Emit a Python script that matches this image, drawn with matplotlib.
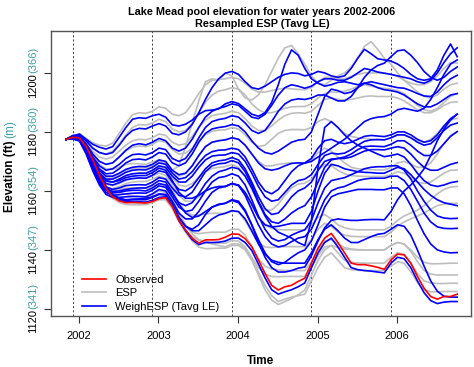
import numpy as np
import matplotlib.pyplot as plt
from matplotlib.lines import Line2D

plt.rcParams['font.family'] = ['Liberation Sans', 'DejaVu Sans']

# ---- data (Lake Mead elevation, ft), monthly, Nov 2001 - Sep 2006 ----
start_year = 2001.84
wy_starts = [2001.92, 2002.92, 2003.92, 2004.92, 2005.92]
year_ticks = [2002, 2003, 2004, 2005, 2006]
ft_ticks = [1120, 1140, 1160, 1180, 1200]
m_labels = ["(341)", "(347)", "(354)", "(360)", "(366)"]

observed = [1177.5, 1178.2, 1177.9, 1175.0, 1170.5, 1165.4, 1160.9, 1158.0, 1156.6, 1156.0, 1156.1, 1156.0, 1155.9,
            1156.4, 1157.4, 1157.7, 1154.7, 1150.0, 1146.8, 1144.0, 1142.3, 1143.4, 1143.4, 1143.5, 1144.3,
            1145.4, 1145.3, 1143.8, 1141.1, 1136.6, 1132.0, 1128.0, 1126.4, 1127.5, 1128.0, 1129.3, 1130.4,
            1135.5, 1140.6, 1144.0, 1145.6, 1142.5, 1139.0, 1135.5, 1135.0, 1135.0, 1134.6, 1134.1, 1133.4,
            1136.6, 1138.6, 1138.3, 1135.5, 1131.0, 1127.0, 1124.2, 1123.3, 1124.2, 1124.2, 1125.0]

esp01 = [1177.5, 1178.3, 1178.0, 1175.5, 1172.0, 1169.0, 1167.5, 1167.3, 1168.0, 1169.0, 1169.3, 1169.2, 1169.0,
         1169.8, 1170.5, 1169.5, 1167.0, 1168.5, 1175.0, 1183.0, 1190.5, 1197.0, 1198.0, 1197.5, 1200.0,
         1199.0, 1194.5, 1191.5, 1190.8, 1192.5, 1196.0, 1200.5, 1205.0, 1208.5, 1209.3, 1206.5, 1203.0,
         1199.0, 1196.5, 1196.0, 1197.5, 1199.0, 1200.0, 1202.0, 1205.0, 1209.0, 1210.6, 1208.0, 1205.0,
         1203.0, 1200.0, 1197.5, 1196.5, 1196.0, 1196.0, 1197.0, 1199.0, 1201.5, 1203.5, 1203.3]
esp02 = [1177.5, 1178.7, 1179.3, 1177.8, 1176.3, 1175.5, 1175.2, 1176.2, 1179.5, 1183.0, 1185.8, 1186.5, 1186.3,
         1187.0, 1188.5, 1188.0, 1186.0, 1185.5, 1186.5, 1189.5, 1193.0, 1196.0, 1197.5, 1197.8, 1198.0,
         1198.5, 1198.0, 1196.5, 1194.5, 1193.5, 1193.5, 1194.0, 1194.5, 1194.8, 1194.6, 1194.4, 1194.3,
         1195.0, 1197.0, 1198.5, 1198.5, 1198.0, 1198.0, 1198.8, 1199.5, 1200.0, 1200.0, 1200.0, 1199.9,
         1199.5, 1198.8, 1197.5, 1195.5, 1193.5, 1192.0, 1191.5, 1192.5, 1194.5, 1196.0, 1196.5]
esp03 = [1177.5, 1178.6, 1178.9, 1177.0, 1174.5, 1173.0, 1172.5, 1173.5, 1176.0, 1179.0, 1181.5, 1182.5, 1182.3,
         1183.0, 1184.3, 1183.5, 1181.0, 1180.0, 1180.5, 1183.0, 1186.5, 1190.0, 1192.5, 1193.8, 1194.3,
         1195.0, 1194.5, 1192.5, 1189.5, 1187.5, 1186.5, 1186.5, 1187.2, 1188.0, 1188.5, 1188.6, 1188.6,
         1189.5, 1191.5, 1193.0, 1193.5, 1193.5, 1193.8, 1194.5, 1195.5, 1196.0, 1195.5, 1195.0, 1194.8,
         1194.5, 1194.0, 1193.0, 1191.0, 1189.0, 1187.5, 1187.0, 1188.0, 1190.0, 1192.0, 1193.0]
esp04 = [1177.5, 1178.5, 1178.5, 1176.5, 1173.5, 1171.5, 1170.8, 1171.5, 1173.5, 1175.5, 1177.0, 1177.5, 1177.3,
         1178.0, 1179.3, 1178.8, 1176.5, 1175.5, 1176.0, 1178.5, 1181.5, 1184.0, 1185.5, 1186.0, 1186.3,
         1187.0, 1186.5, 1184.5, 1182.0, 1180.5, 1180.5, 1182.0, 1184.0, 1185.5, 1186.3, 1186.5, 1186.3,
         1187.0, 1189.0, 1191.0, 1191.5, 1191.0, 1190.8, 1191.0, 1191.5, 1192.0, 1192.2, 1192.0, 1192.0,
         1192.0, 1191.5, 1190.5, 1189.0, 1187.5, 1186.5, 1186.5, 1187.5, 1189.0, 1190.0, 1190.2]
esp05 = [1177.5, 1178.4, 1178.3, 1176.0, 1172.5, 1170.0, 1169.0, 1169.5, 1171.5, 1173.5, 1174.8, 1175.2, 1175.0,
         1175.8, 1177.0, 1176.5, 1174.0, 1172.5, 1172.8, 1174.5, 1177.0, 1179.0, 1180.2, 1180.6, 1180.7,
         1181.5, 1181.0, 1179.0, 1176.5, 1175.0, 1175.5, 1177.5, 1179.5, 1180.5, 1180.8, 1180.8, 1180.7,
         1181.5, 1183.5, 1184.5, 1183.5, 1181.5, 1179.5, 1178.5, 1178.0, 1177.8, 1177.5, 1177.4, 1177.3,
         1178.0, 1179.0, 1179.0, 1178.0, 1177.0, 1176.5, 1177.5, 1179.5, 1182.0, 1184.0, 1184.6]
esp06 = [1177.5, 1178.2, 1177.8, 1174.8, 1170.3, 1166.5, 1164.5, 1164.5, 1165.5, 1166.8, 1167.5, 1167.8, 1167.7,
         1168.5, 1170.0, 1169.5, 1166.5, 1165.0, 1165.8, 1168.5, 1172.0, 1175.0, 1176.5, 1177.1, 1177.3,
         1178.0, 1177.5, 1175.5, 1172.5, 1170.0, 1168.5, 1168.5, 1169.0, 1169.3, 1169.5, 1169.5, 1169.4,
         1170.5, 1173.0, 1174.5, 1173.5, 1171.5, 1169.5, 1168.0, 1167.5, 1167.3, 1167.2, 1167.1, 1167.1,
         1168.0, 1169.5, 1170.0, 1169.0, 1168.0, 1168.0, 1169.5, 1172.5, 1176.0, 1178.8, 1180.1]
esp07 = [1177.5, 1178.1, 1177.6, 1174.5, 1169.8, 1165.5, 1163.3, 1163.0, 1164.0, 1165.2, 1165.8, 1166.0, 1166.0,
         1166.8, 1168.2, 1167.5, 1164.5, 1162.0, 1161.5, 1162.5, 1164.5, 1166.5, 1167.6, 1168.0, 1168.2,
         1169.0, 1168.0, 1165.0, 1160.5, 1156.0, 1153.5, 1153.5, 1155.5, 1158.5, 1161.0, 1162.3, 1162.6,
         1164.0, 1167.0, 1169.0, 1168.5, 1167.0, 1165.8, 1165.2, 1165.0, 1164.9, 1164.9, 1164.9, 1164.9,
         1165.5, 1166.5, 1166.0, 1164.5, 1163.0, 1162.5, 1163.0, 1164.5, 1166.0, 1167.0, 1167.1]
esp08 = [1177.5, 1178.0, 1177.5, 1174.2, 1169.2, 1164.8, 1162.3, 1161.8, 1162.5, 1163.5, 1164.1, 1164.3, 1164.3,
         1165.0, 1166.0, 1165.3, 1162.0, 1158.5, 1156.5, 1156.5, 1158.0, 1160.0, 1161.0, 1161.4, 1161.5,
         1162.3, 1161.8, 1159.0, 1155.0, 1151.0, 1148.5, 1147.3, 1146.9, 1146.8, 1146.8, 1146.8, 1146.8,
         1148.5, 1151.0, 1152.0, 1150.5, 1148.5, 1147.5, 1147.0, 1146.8, 1146.8, 1146.8, 1146.8, 1146.8,
         1148.0, 1150.0, 1151.5, 1152.5, 1153.5, 1155.0, 1157.0, 1159.0, 1160.5, 1161.3, 1161.5]
esp09 = [1177.5, 1177.9, 1177.3, 1173.8, 1168.5, 1164.0, 1161.3, 1160.8, 1161.5, 1162.5, 1163.0, 1163.2, 1163.2,
         1164.0, 1165.0, 1164.2, 1160.5, 1156.0, 1153.0, 1151.8, 1151.8, 1152.2, 1152.4, 1152.4, 1152.4,
         1153.2, 1152.8, 1150.0, 1146.0, 1142.5, 1141.0, 1140.8, 1141.0, 1141.1, 1141.1, 1141.1, 1141.1,
         1143.5, 1147.0, 1149.0, 1148.0, 1146.0, 1145.0, 1144.6, 1144.5, 1144.5, 1144.5, 1144.5, 1144.5,
         1146.0, 1148.0, 1149.5, 1150.5, 1151.5, 1152.5, 1153.8, 1155.0, 1155.5, 1155.8, 1155.8]
esp10 = [1177.5, 1177.8, 1177.2, 1173.5, 1168.0, 1163.5, 1161.0, 1160.3, 1160.6, 1160.9, 1161.0, 1161.0, 1160.9,
         1161.5, 1162.3, 1161.5, 1157.5, 1152.5, 1148.5, 1145.5, 1143.5, 1142.6, 1142.3, 1142.3, 1142.3,
         1143.2, 1143.0, 1141.0, 1137.5, 1134.0, 1131.8, 1131.0, 1130.9, 1131.0, 1131.0, 1131.0, 1131.0,
         1134.0, 1138.0, 1141.0, 1141.5, 1140.8, 1140.3, 1140.1, 1140.0, 1140.0, 1140.0, 1140.0, 1140.0,
         1141.5, 1142.5, 1142.0, 1140.0, 1137.5, 1135.8, 1135.3, 1135.3, 1135.4, 1135.5, 1135.5]
esp11 = [1177.5, 1178.3, 1178.0, 1175.0, 1170.3, 1165.0, 1160.5, 1157.5, 1156.0, 1155.4, 1155.3, 1155.3, 1155.3,
         1156.0, 1157.0, 1157.0, 1154.0, 1149.5, 1146.0, 1143.0, 1141.0, 1140.4, 1140.5, 1140.6, 1140.6,
         1141.5, 1141.5, 1140.0, 1136.5, 1131.5, 1126.5, 1123.0, 1121.5, 1122.5, 1123.5, 1124.8, 1126.4,
         1131.5, 1136.5, 1140.0, 1141.5, 1139.0, 1136.5, 1135.8, 1135.6, 1135.5, 1135.5, 1135.5, 1135.5,
         1137.5, 1139.0, 1138.5, 1135.5, 1132.0, 1129.5, 1128.8, 1128.6, 1128.6, 1128.7, 1128.7]
esp12 = [1177.5, 1178.2, 1177.9, 1175.0, 1170.5, 1165.5, 1161.0, 1158.3, 1157.0, 1156.3, 1156.0, 1156.0, 1156.0,
         1156.5, 1157.4, 1157.5, 1154.5, 1150.0, 1146.5, 1144.5, 1143.3, 1143.0, 1142.0, 1141.5, 1141.0,
         1142.0, 1142.0, 1140.5, 1137.0, 1132.5, 1128.0, 1124.5, 1122.5, 1123.3, 1124.0, 1124.5, 1125.0,
         1129.5, 1134.0, 1137.5, 1139.0, 1136.5, 1134.0, 1133.3, 1133.1, 1133.0, 1133.0, 1133.0, 1133.0,
         1134.5, 1136.0, 1135.5, 1132.5, 1129.0, 1126.5, 1125.8, 1125.8, 1125.9, 1125.9, 1125.9]
esp13 = [1177.5, 1178.0, 1177.4, 1174.0, 1168.8, 1164.3, 1161.5, 1160.2, 1159.5, 1158.8, 1158.3, 1158.1, 1158.0,
         1158.8, 1160.0, 1159.5, 1156.0, 1151.5, 1148.0, 1146.0, 1145.5, 1145.8, 1146.0, 1146.0, 1146.0,
         1147.0, 1147.0, 1145.0, 1141.0, 1137.0, 1134.5, 1133.5, 1133.2, 1133.0, 1133.0, 1133.0, 1133.0,
         1136.0, 1140.0, 1143.0, 1143.5, 1142.0, 1140.8, 1140.3, 1140.1, 1140.0, 1140.0, 1140.0, 1140.0,
         1141.5, 1142.5, 1142.0, 1139.5, 1136.0, 1133.0, 1131.8, 1131.5, 1131.5, 1131.5, 1131.5]

wesp01 = [1177.5, 1178.5, 1179.3, 1177.5, 1175.8, 1174.8, 1174.2, 1175.0, 1178.2, 1181.5, 1184.3, 1184.8, 1184.6,
          1185.5, 1186.0, 1185.0, 1182.4, 1182.0, 1182.6, 1184.0, 1186.0, 1187.2, 1187.4, 1187.8, 1189.5,
          1190.3, 1189.6, 1187.8, 1186.0, 1185.3, 1186.5, 1190.0, 1196.0, 1203.0, 1207.8, 1206.0, 1201.5,
          1198.0, 1196.5, 1195.5, 1196.0, 1196.8, 1197.0, 1196.5, 1196.0, 1196.5, 1197.0, 1196.5, 1196.0,
          1195.5, 1195.0, 1194.8, 1194.0, 1193.0, 1192.2, 1192.0, 1193.5, 1196.0, 1198.0, 1199.2]
wesp02 = [1177.5, 1178.8, 1179.0, 1177.0, 1174.5, 1173.0, 1172.4, 1173.0, 1175.5, 1178.5, 1180.5, 1181.2, 1181.0,
          1182.0, 1182.8, 1182.0, 1179.5, 1179.0, 1180.0, 1182.5, 1186.5, 1191.0, 1195.0, 1198.0, 1199.9,
          1200.5, 1199.5, 1197.0, 1195.0, 1194.5, 1195.5, 1197.0, 1198.5, 1199.5, 1200.0, 1199.8, 1199.0,
          1199.5, 1200.5, 1200.0, 1199.0, 1198.5, 1199.0, 1201.5, 1205.0, 1208.0, 1206.5, 1204.8, 1204.4,
          1204.0, 1203.0, 1201.5, 1199.5, 1198.0, 1197.5, 1198.0, 1201.0, 1206.0, 1209.8, 1205.5]
wesp03 = [1177.5, 1178.6, 1178.5, 1176.0, 1172.5, 1170.0, 1169.0, 1169.5, 1171.5, 1173.8, 1175.5, 1176.0, 1175.6,
          1176.5, 1177.8, 1177.0, 1174.5, 1173.5, 1174.5, 1177.5, 1181.5, 1185.0, 1187.0, 1188.0, 1188.6,
          1189.5, 1189.0, 1187.0, 1185.0, 1184.5, 1186.0, 1189.0, 1192.5, 1195.0, 1196.0, 1195.5, 1194.8,
          1195.5, 1197.0, 1198.0, 1198.0, 1197.5, 1197.5, 1198.5, 1200.0, 1201.5, 1201.0, 1200.3, 1199.9,
          1199.5, 1199.0, 1198.5, 1198.0, 1197.0, 1196.5, 1197.5, 1200.0, 1203.5, 1206.5, 1208.5]
wesp04 = [1177.5, 1178.4, 1178.2, 1175.5, 1171.5, 1168.5, 1167.0, 1167.5, 1169.0, 1171.0, 1172.3, 1172.5, 1172.2,
          1173.0, 1174.5, 1174.0, 1171.0, 1170.0, 1171.0, 1174.0, 1178.0, 1181.5, 1183.5, 1184.2, 1184.6,
          1185.5, 1185.0, 1183.0, 1180.5, 1179.5, 1180.5, 1183.5, 1187.0, 1189.5, 1190.8, 1191.2, 1191.0,
          1191.5, 1192.5, 1192.5, 1191.5, 1190.5, 1190.5, 1192.0, 1195.0, 1198.5, 1201.0, 1202.5, 1203.3,
          1205.5, 1207.5, 1207.8, 1206.0, 1203.5, 1200.5, 1198.5, 1197.5, 1198.5, 1200.5, 1202.0]
wesp05 = [1177.5, 1178.3, 1178.0, 1175.0, 1171.0, 1167.5, 1165.8, 1166.0, 1167.5, 1169.5, 1170.6, 1170.8, 1170.5,
          1171.5, 1173.0, 1172.5, 1169.5, 1168.5, 1169.5, 1172.5, 1176.5, 1179.5, 1181.0, 1181.5, 1181.8,
          1182.5, 1182.0, 1180.0, 1177.0, 1174.5, 1173.0, 1172.5, 1173.5, 1175.0, 1176.5, 1177.2, 1177.5,
          1180.0, 1186.0, 1192.0, 1194.5, 1194.0, 1193.0, 1193.5, 1195.0, 1196.5, 1196.0, 1195.0, 1194.3,
          1194.0, 1193.5, 1192.5, 1191.0, 1189.5, 1188.5, 1188.5, 1189.5, 1191.0, 1192.5, 1193.0]
wesp06 = [1177.5, 1178.2, 1177.8, 1174.8, 1170.5, 1167.0, 1165.0, 1165.0, 1166.0, 1167.3, 1168.0, 1168.3, 1168.2,
          1169.0, 1170.5, 1170.0, 1167.0, 1165.5, 1166.0, 1168.5, 1172.0, 1175.0, 1176.5, 1177.0, 1177.3,
          1178.0, 1177.5, 1175.5, 1172.5, 1169.5, 1167.5, 1167.0, 1167.5, 1168.5, 1169.3, 1169.5, 1169.4,
          1170.0, 1171.5, 1173.0, 1174.5, 1176.0, 1177.5, 1179.5, 1181.5, 1183.5, 1184.5, 1185.0, 1185.2,
          1186.0, 1187.5, 1188.0, 1187.5, 1187.0, 1188.0, 1191.0, 1195.0, 1199.5, 1203.0, 1204.4]
wesp07 = [1177.5, 1178.1, 1177.6, 1174.5, 1170.0, 1166.0, 1164.0, 1164.0, 1165.0, 1166.3, 1167.0, 1167.2, 1167.1,
          1168.0, 1169.5, 1169.0, 1166.0, 1164.0, 1164.5, 1166.5, 1169.5, 1172.0, 1173.3, 1173.8, 1173.9,
          1174.5, 1174.0, 1171.5, 1167.5, 1163.0, 1160.0, 1159.0, 1160.5, 1163.5, 1166.5, 1168.5, 1169.5,
          1171.0, 1174.5, 1177.0, 1177.5, 1176.5, 1176.0, 1176.5, 1177.5, 1178.5, 1178.8, 1178.6, 1178.4,
          1179.0, 1180.0, 1180.0, 1179.0, 1177.5, 1176.5, 1177.0, 1179.0, 1182.0, 1184.5, 1186.0]
wesp08 = [1177.5, 1178.0, 1177.5, 1174.3, 1169.5, 1165.5, 1163.3, 1163.0, 1164.0, 1165.2, 1165.8, 1166.0, 1166.0,
          1167.0, 1168.5, 1168.0, 1165.0, 1163.0, 1163.0, 1165.0, 1168.0, 1170.5, 1171.8, 1172.1, 1172.2,
          1173.0, 1172.5, 1170.0, 1166.0, 1161.5, 1158.0, 1156.5, 1157.0, 1159.5, 1162.0, 1163.5, 1164.0,
          1165.5, 1169.0, 1172.0, 1172.8, 1172.5, 1172.8, 1174.0, 1175.5, 1176.8, 1177.3, 1177.4, 1177.3,
          1178.0, 1179.0, 1179.0, 1178.0, 1176.5, 1175.5, 1176.0, 1178.0, 1180.5, 1182.3, 1183.0]
wesp09 = [1177.5, 1177.9, 1177.4, 1174.0, 1169.0, 1165.0, 1162.5, 1162.0, 1162.8, 1163.8, 1164.2, 1164.4, 1164.3,
          1165.3, 1166.8, 1166.3, 1163.0, 1160.5, 1160.0, 1161.5, 1164.5, 1167.5, 1169.5, 1170.2, 1170.5,
          1171.3, 1170.5, 1167.5, 1163.0, 1158.0, 1154.0, 1152.0, 1152.5, 1155.0, 1158.0, 1160.0, 1161.0,
          1163.0, 1167.0, 1170.0, 1170.8, 1171.0, 1171.5, 1172.5, 1174.0, 1175.0, 1175.2, 1175.1, 1175.0,
          1175.8, 1177.0, 1177.0, 1175.5, 1173.5, 1172.0, 1172.0, 1173.5, 1176.0, 1178.5, 1180.1]
wesp10 = [1177.5, 1177.8, 1177.2, 1173.5, 1168.3, 1164.0, 1161.3, 1160.5, 1161.0, 1161.8, 1162.0, 1162.1, 1162.0,
          1163.0, 1164.5, 1164.0, 1161.0, 1158.5, 1158.0, 1159.5, 1163.0, 1166.5, 1168.5, 1169.2, 1169.4,
          1170.3, 1169.5, 1166.5, 1162.0, 1156.5, 1152.0, 1149.5, 1149.0, 1150.5, 1152.5, 1154.0, 1155.0,
          1158.0, 1163.0, 1168.0, 1170.5, 1171.0, 1171.0, 1171.5, 1172.5, 1173.5, 1174.0, 1174.0, 1173.9,
          1174.5, 1175.0, 1174.5, 1172.5, 1170.0, 1168.0, 1167.0, 1167.0, 1168.0, 1169.0, 1169.6]
wesp11 = [1177.5, 1177.8, 1177.1, 1173.3, 1167.8, 1163.2, 1160.3, 1159.3, 1159.5, 1160.0, 1160.2, 1160.2, 1160.0,
          1161.0, 1162.5, 1162.0, 1159.0, 1156.0, 1155.0, 1156.0, 1159.0, 1162.5, 1165.0, 1166.5, 1167.1,
          1168.0, 1167.5, 1165.0, 1161.0, 1156.0, 1151.5, 1148.0, 1146.0, 1145.0, 1144.0, 1142.5, 1141.5,
          1150.0, 1168.0, 1181.5, 1183.5, 1181.5, 1179.0, 1177.0, 1175.5, 1174.5, 1173.5, 1172.5, 1171.6,
          1172.0, 1172.5, 1171.5, 1169.0, 1166.0, 1163.5, 1162.0, 1161.5, 1162.0, 1162.8, 1163.2]
wesp12 = [1177.5, 1177.7, 1177.0, 1173.0, 1167.3, 1162.5, 1159.5, 1158.5, 1158.7, 1159.0, 1159.2, 1159.3, 1159.2,
          1160.2, 1161.7, 1161.2, 1158.0, 1154.5, 1153.0, 1153.5, 1156.5, 1160.0, 1163.0, 1164.5, 1164.9,
          1165.8, 1165.0, 1162.0, 1157.0, 1151.5, 1147.0, 1144.0, 1143.0, 1143.5, 1145.0, 1146.0, 1146.8,
          1150.0, 1156.0, 1161.0, 1163.5, 1164.0, 1164.5, 1165.5, 1166.5, 1167.5, 1168.0, 1168.2, 1168.2,
          1168.5, 1168.5, 1167.0, 1164.0, 1160.0, 1156.5, 1153.5, 1151.5, 1150.8, 1150.6, 1150.7]
wesp13 = [1177.5, 1177.6, 1176.9, 1172.5, 1166.8, 1162.0, 1158.8, 1157.8, 1157.8, 1158.0, 1158.1, 1158.1, 1158.0,
          1159.0, 1160.5, 1160.0, 1156.5, 1152.5, 1150.5, 1150.5, 1153.0, 1156.5, 1159.5, 1161.0, 1161.5,
          1162.5, 1161.8, 1158.5, 1153.5, 1148.5, 1144.5, 1142.0, 1141.0, 1141.5, 1142.8, 1144.0, 1144.5,
          1147.0, 1152.0, 1157.0, 1160.0, 1161.0, 1161.5, 1162.5, 1163.5, 1164.0, 1164.3, 1164.3, 1164.3,
          1165.0, 1165.0, 1163.5, 1160.5, 1156.5, 1152.5, 1149.5, 1147.8, 1147.3, 1147.2, 1147.3]
wesp14 = [1177.5, 1178.3, 1178.0, 1175.3, 1170.8, 1165.8, 1161.5, 1158.8, 1157.5, 1157.0, 1157.2, 1157.3, 1157.5,
          1158.0, 1159.0, 1158.8, 1155.5, 1151.0, 1148.0, 1147.0, 1148.5, 1152.0, 1154.5, 1155.5, 1155.8,
          1156.8, 1156.0, 1153.0, 1148.5, 1143.5, 1139.0, 1136.0, 1135.0, 1135.8, 1137.5, 1139.0, 1140.0,
          1143.0, 1148.5, 1154.5, 1158.0, 1159.0, 1159.5, 1160.0, 1160.5, 1160.5, 1160.5, 1160.4, 1160.4,
          1161.0, 1161.0, 1159.0, 1155.0, 1150.0, 1145.5, 1142.0, 1140.0, 1139.3, 1139.0, 1139.1]
wesp15 = [1177.5, 1178.4, 1178.1, 1175.2, 1170.7, 1165.6, 1161.2, 1158.5, 1157.2, 1156.8, 1157.0, 1157.0, 1157.0,
          1157.8, 1158.8, 1158.6, 1155.5, 1151.0, 1148.0, 1146.5, 1146.5, 1148.5, 1150.5, 1151.8, 1152.4,
          1153.3, 1153.0, 1150.5, 1146.5, 1142.0, 1138.5, 1136.5, 1135.8, 1135.5, 1135.5, 1135.5, 1135.5,
          1139.0, 1143.5, 1147.0, 1148.5, 1146.5, 1144.0, 1142.5, 1142.5, 1143.5, 1144.5, 1145.3, 1145.6,
          1147.0, 1148.5, 1148.0, 1145.0, 1140.0, 1134.5, 1129.5, 1126.0, 1124.3, 1124.0, 1124.0]
wesp16 = [1177.5, 1178.5, 1178.2, 1175.5, 1171.0, 1165.8, 1161.0, 1158.2, 1156.8, 1156.3, 1156.4, 1156.3, 1156.2,
          1156.8, 1157.8, 1158.0, 1155.0, 1150.0, 1146.5, 1143.5, 1141.8, 1142.5, 1142.5, 1142.6, 1143.0,
          1144.0, 1144.0, 1142.5, 1139.8, 1135.2, 1130.5, 1126.5, 1125.0, 1125.8, 1126.5, 1127.5, 1128.8,
          1134.0, 1139.0, 1142.5, 1144.0, 1141.0, 1137.5, 1134.0, 1133.3, 1133.0, 1132.8, 1132.5, 1132.2,
          1135.5, 1137.5, 1137.0, 1134.0, 1129.5, 1125.5, 1122.8, 1121.8, 1122.3, 1122.5, 1122.5]
wesp17 = [1177.5, 1177.9, 1177.3, 1173.8, 1168.5, 1163.8, 1160.8, 1159.8, 1160.0, 1160.5, 1160.8, 1161.0, 1161.0,
          1162.0, 1163.5, 1163.0, 1159.5, 1155.5, 1152.5, 1151.0, 1151.5, 1153.0, 1154.5, 1155.3, 1155.8,
          1157.0, 1156.5, 1153.5, 1148.5, 1142.5, 1137.5, 1134.0, 1132.5, 1132.5, 1133.0, 1133.8, 1134.2,
          1138.0, 1143.0, 1147.5, 1150.0, 1150.5, 1150.2, 1150.0, 1150.0, 1150.2, 1150.3, 1150.3, 1150.2,
          1153.0, 1157.0, 1160.0, 1162.0, 1164.5, 1167.5, 1172.0, 1177.0, 1181.0, 1184.0, 1186.0]
wesp18 = [1177.5, 1178.0, 1177.6, 1174.5, 1170.0, 1166.0, 1163.5, 1163.0, 1163.5, 1164.5, 1165.0, 1165.2, 1165.2,
          1166.2, 1167.7, 1167.0, 1163.5, 1159.5, 1157.5, 1157.5, 1158.5, 1160.0, 1161.0, 1161.5, 1161.5,
          1162.5, 1162.0, 1159.5, 1155.5, 1151.0, 1148.5, 1147.8, 1148.0, 1148.5, 1149.0, 1149.0, 1149.0,
          1153.0, 1160.0, 1166.0, 1169.0, 1168.5, 1167.5, 1167.0, 1166.5, 1166.3, 1166.2, 1166.0, 1166.0,
          1167.0, 1168.0, 1167.5, 1165.5, 1163.0, 1160.5, 1158.5, 1157.0, 1156.0, 1155.5, 1155.0]

esp = [esp01, esp02, esp03, esp04, esp05, esp06, esp07, esp08, esp09, esp10, esp11, esp12, esp13]
weigh_esp = [wesp01, wesp02, wesp03, wesp04, wesp05, wesp06, wesp07, wesp08, wesp09,
             wesp10, wesp11, wesp12, wesp13, wesp14, wesp15, wesp16, wesp17, wesp18]

time = start_year + np.arange(len(observed)) / 12.0

teal = "#3f9ea6"

fig = plt.figure(figsize=(4.74, 3.67), dpi=100)
ax = fig.add_axes([0.1076, 0.139, 0.886, 0.7765])

for tr in esp:
    ax.plot(time, tr, color="#bebebe", lw=1.2, zorder=2)
for tr in weigh_esp:
    ax.plot(time, tr, color="blue", lw=1.2, zorder=3)
ax.plot(time, observed, color="red", lw=1.2, zorder=4)

for x in wy_starts:
    ax.axvline(x, color="#222222", ls=(0, (2.5, 2.5)), lw=0.6, zorder=1)

ax.set_xlim(2001.648, 2006.93)
ax.set_ylim(1117.6, 1214.2)
ax.set_xticks(year_ticks)
ax.set_xticklabels([str(y) for y in year_ticks], fontsize=8)
ax.set_yticks(ft_ticks)
ax.set_yticklabels([])
ax.tick_params(direction="out", length=5, width=0.8, color="#333333")
ax.tick_params(axis="x", pad=6)
for s in ax.spines.values():
    s.set_color("#555555")
    s.set_linewidth(1.0)

# two-coloured y tick labels (ft in black, m in teal)
ytr = ax.get_yaxis_transform()
for v, m in zip(ft_ticks, m_labels):
    ax.text(-0.043, v, str(v), transform=ytr, rotation=90, ha="center", va="top",
            fontsize=8, color="black")
    ax.text(-0.043, v, m, transform=ytr, rotation=90, ha="center", va="bottom",
            fontsize=8, color=teal)

ax.text(-0.098, 0.615, "Elevation (ft)", transform=ax.transAxes, rotation=90,
        ha="center", va="top", fontsize=8.5, fontweight="bold")
ax.text(-0.098, 0.625, "(m)", transform=ax.transAxes, rotation=90,
        ha="center", va="bottom", fontsize=8.5, color=teal)

ax.set_xlabel("Time", fontsize=8.5, fontweight="bold", labelpad=10)
fig.text(0.553, 0.982, "Lake Mead pool elevation for water years 2002-2006",
         ha="center", va="top", fontsize=7.8, fontweight="bold")
fig.text(0.553, 0.949, "Resampled ESP (Tavg LE)",
         ha="center", va="top", fontsize=7.8, fontweight="bold")

handles = [Line2D([], [], color="red", lw=1.2),
           Line2D([], [], color="#bebebe", lw=1.2),
           Line2D([], [], color="blue", lw=1.2)]
ax.legend(handles, ["Observed", "ESP", "WeighESP (Tavg LE)"], loc="lower left",
          frameon=False, fontsize=8, handlelength=2.2, labelspacing=0.3,
          bbox_to_anchor=(0.05, -0.02))

fig.savefig("out.png", dpi=100)
